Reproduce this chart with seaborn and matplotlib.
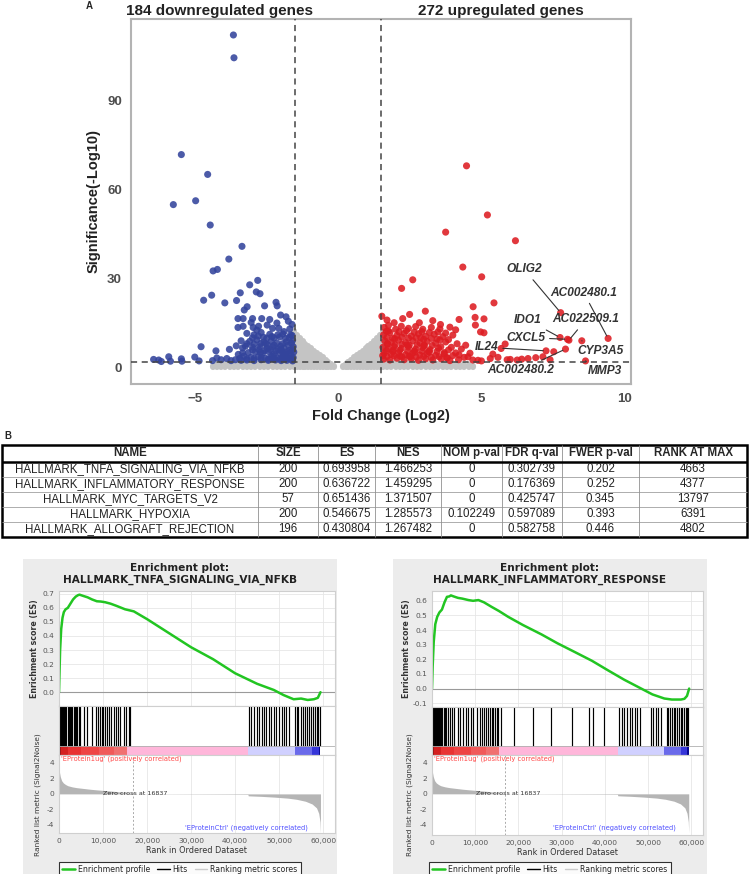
import pandas as pd
import seaborn as sns
from matplotlib import pyplot as plt
from matplotlib.lines import Line2D
from matplotlib.patches import Rectangle

# ---------------- data: volcano plot ----------------
BLUE_FC = [-3.67, -3.65, -5.49, -4.57, -5.77, -4.99, -4.48, -3.37, -3.83, -4.38, -4.23, -3.10,
           -2.82, -2.87, -2.74, -3.43, -4.43, -4.71, -3.97, -3.56, -3.29, -3.19, -2.58, -2.18,
           -2.14, -3.51, -3.33, -3.00, -2.68, -2.02, -1.83, -3.51, -3.33, -2.98, -2.79, -4.80,
           -4.28, -3.81, -3.57, -3.35, -6.46, -6.28, -6.19, -5.87, -5.93, -5.49, -5.47, -5.02,
           -4.87, -2.49, -2.30, -2.08, -1.90, -1.67, -2.05, -1.62, -1.75, -3.20, -2.95, -2.70,
           -2.40, -2.25, -1.85, -1.60, -3.40, -3.10, -2.85, -2.60, -2.35, -2.15, -1.95, -1.75,
           -1.58, -3.25, -3.00, -2.75, -2.50, -2.30, -2.10, -1.90, -1.70, -1.56, -3.15, -2.90,
           -2.65, -2.45, -2.25, -2.05, -1.85, -1.65, -3.30, -3.05, -2.80, -2.55, -2.35, -2.15,
           -1.95, -1.75, -1.58, -3.60, -3.40, -3.20, -2.95, -2.70, -2.45, -2.20, -2.00, -1.80,
           -1.60, -4.10, -3.90, -3.75, -4.40, -4.25, -2.62, -2.85, -2.15, -3.05, -2.40, -1.70,
           -2.00, -2.55, -1.62, -1.88, -2.28, -2.72,
           -3.45, -3.20, -2.95, -2.70, -2.45, -2.25, -2.05, -1.85, -1.65,
           -3.00, -2.78, -2.58, -2.38, -2.18, -1.98, -1.78, -1.60,
           -3.20, -2.95, -2.72, -2.48, -2.25, -2.02, -1.82, -1.64,
           -3.00, -2.80, -2.50, -2.32, -2.12, -1.94, -1.72,
           -3.50, -3.35, -2.30, -1.92, -1.72]
BLUE_SIG = [112.3, 104.6, 71.9, 65.2, 55.0, 56.3, 48.1, 40.9, 36.6, 32.6, 33.1, 27.9,
            29.4, 25.5, 24.9, 25.2, 24.4, 22.7, 21.8, 22.6, 19.4, 20.5, 20.8, 22.0,
            20.8, 16.5, 16.5, 16.5, 16.5, 17.7, 17.1, 13.5, 13.9, 13.5, 13.9, 7.0,
            5.6, 6.1, 7.3, 6.6, 2.7, 2.5, 2.0, 2.1, 3.6, 2.9, 2.1, 3.5,
            2.2, 14.3, 13.2, 13.2, 12.1, 11.0, 10.3, 14.5, 15.6, 11.5, 11.0, 11.8,
            11.2, 10.0, 9.8, 9.2, 9.0, 8.8, 9.3, 8.6, 8.9, 8.2, 8.0, 7.6,
            7.0, 7.2, 6.8, 7.0, 6.5, 6.9, 6.2, 6.5, 5.8, 5.2, 5.0, 5.2,
            4.8, 5.4, 4.6, 4.9, 4.4, 4.0, 3.8, 3.4, 3.6, 3.1, 3.7, 3.2,
            3.5, 3.0, 3.3, 2.6, 2.4, 2.5, 2.3, 2.6, 2.4, 2.5, 2.3, 2.4,
            2.2, 2.6, 3.0, 2.3, 2.3, 3.2, 10.2, 12.6, 15.0, 15.2, 16.2, 13.0,
            6.0, 8.0, 10.8, 4.2, 2.9, 5.0,
            3.0, 2.9, 3.0, 3.3, 2.8, 2.9, 2.8, 2.9, 2.7,
            5.9, 6.0, 5.7, 6.0, 5.6, 5.5, 5.4, 6.0,
            8.0, 7.9, 8.1, 7.7, 7.5, 7.2, 8.6, 8.2,
            10.0, 10.6, 9.9, 10.4, 11.0, 11.3, 10.1,
            4.4, 4.9, 3.9, 4.0, 4.7]

RED_FC = [4.48, 5.21, 3.75, 6.19, 4.35, 5.01, 2.60, 2.21, 5.44, 7.77, 3.04, 2.49,
          1.95, 2.83, 3.57, 4.22, 4.78, 5.09, 4.79, 4.97, 5.09, 7.75, 8.06, 8.01,
          8.51, 9.43, 5.83, 5.69, 7.26, 7.53, 7.94, 7.15, 8.64, 6.41, 6.63, 6.25,
          6.01, 5.58, 5.31, 4.88, 4.53, 4.22, 1.52, 4.71,
          1.60, 1.75, 2.00, 2.20, 2.45, 2.70, 2.95, 3.25, 3.55, 3.90, 4.10,
          1.58, 1.80, 2.05, 2.30, 2.55, 2.80, 3.05, 3.35, 3.65, 4.00,
          1.62, 1.85, 2.10, 2.35, 2.60, 2.85, 3.10, 3.40, 3.75, 4.15, 4.45,
          1.56, 1.75, 1.95, 2.20, 2.45, 2.70, 2.95, 3.20, 3.50, 3.85, 4.30,
          1.60, 1.85, 2.10, 2.35, 2.60, 2.85, 3.10, 3.40, 3.70, 4.00, 4.60,
          1.58, 1.80, 2.05, 2.30, 2.55, 2.80, 3.05, 3.30, 3.60, 3.90, 4.20, 4.70, 5.00,
          1.70, 2.25, 3.30, 1.90, 2.15, 2.65, 3.00, 1.68, 1.92, 2.40, 2.88, 3.45,
          1.55, 1.72, 2.52, 3.15, 3.80, 5.40, 5.90, 6.90, 7.40,
          1.70, 1.95, 2.22, 2.48, 2.72, 2.98, 3.25, 3.52, 3.80, 4.40,
          1.68, 1.90, 2.15, 2.42, 2.68, 2.92, 3.18, 3.45, 3.70, 4.10,
          1.72, 1.98, 2.22, 2.48, 2.75, 3.00, 3.28, 3.58, 3.95,
          1.70, 1.97, 2.22, 2.45, 2.72, 2.98, 3.25, 3.55, 3.85,
          1.75, 2.12, 2.38, 2.65, 2.92, 3.18, 3.48, 3.75]
RED_SIG = [68.1, 51.5, 45.7, 42.8, 33.9, 30.6, 29.6, 26.7, 21.8, 18.5, 19.0, 17.9,
           15.1, 15.1, 14.5, 16.2, 16.9, 16.4, 14.3, 12.0, 11.7, 10.1, 9.2, 9.5,
           9.0, 9.8, 7.9, 6.4, 5.6, 5.3, 6.2, 3.6, 2.2, 2.8, 3.0, 2.5,
           2.7, 3.4, 3.0, 2.4, 3.6, 4.2, 17.3, 20.5,
           13.5, 14.2, 12.9, 13.9, 13.2, 13.8, 12.9, 13.5, 13.0, 13.6, 12.7,
           11.0, 11.8, 10.8, 11.5, 10.6, 11.4, 10.5, 11.2, 10.4, 10.9,
           9.0, 8.5, 9.2, 8.4, 9.0, 8.3, 8.8, 8.2, 8.6, 8.0, 7.5,
           6.8, 6.3, 7.0, 6.4, 6.9, 6.2, 6.7, 6.0, 6.5, 5.9, 6.2,
           4.8, 4.4, 5.0, 4.3, 4.8, 4.2, 4.7, 4.1, 4.6, 4.0, 4.8,
           2.8, 2.5, 3.1, 2.6, 3.0, 2.4, 2.9, 2.5, 2.9, 2.3, 2.6, 2.5, 2.2,
           16.0, 16.5, 15.8, 9.9, 3.8, 5.6, 7.5, 12.2, 5.8, 7.6, 10.0, 9.6,
           4.0, 8.0, 3.6, 5.4, 3.2, 4.5, 2.6, 3.3, 2.6,
           3.7, 3.9, 3.6, 3.8, 3.5, 3.7, 3.4, 3.6, 3.3, 3.4,
           5.7, 5.4, 5.8, 5.5, 5.3, 5.6, 5.2, 5.4, 5.0, 4.9,
           7.9, 7.6, 7.8, 7.5, 7.7, 7.3, 7.4, 7.0, 6.8,
           10.1, 9.7, 10.2, 9.9, 10.0, 9.5, 9.8, 9.3, 9.4,
           12.3, 12.0, 12.4, 11.9, 12.1, 11.8, 12.0, 11.6]

# non-significant genes: column positions and the height each column reaches
GREY_FC = [-4.55, -4.40, -4.25, -4.10, -3.95, -3.80, -3.65, -3.50, -3.35, -3.20, -3.05,
           -2.90, -2.75, -2.60, -2.45, -2.30, -2.15, -2.00, -1.85, -1.70,
           -1.55, -1.45, -1.35, -1.25, -1.15, -1.05, -0.95, -0.85, -0.75, -0.65, -0.55,
           -0.45, -0.35, -0.25, -0.15, -0.05, 0.05, 0.15, 0.25, 0.35, 0.45, 0.55, 0.65,
           0.75, 0.85, 0.95, 1.05, 1.15, 1.25, 1.35, 1.45, 1.55,
           1.70, 1.85, 2.00, 2.15, 2.30, 2.45, 2.60, 2.75, 2.90, 3.05, 3.20, 3.35,
           3.50, 3.65, 3.80, 3.95, 4.10, 4.25, 4.40, 4.55, 4.70, 4.85, 5.00]
GREY_TOP = [0.2, 0.5, 0.8, 0.9, 1.1, 1.0, 1.3, 1.2, 1.4, 1.3, 1.5,
            1.4, 1.6, 1.5, 1.6, 1.7, 1.6, 1.7, 1.8, 1.7,
            12.2, 11.0, 10.0, 9.0, 8.0, 7.2, 6.4, 5.6, 4.9, 4.2, 3.4,
            2.6, 1.8, 1.0, 0.4, 0.0, 0.0, 0.4, 1.0, 1.8, 2.6, 3.4, 4.2,
            4.9, 5.6, 6.4, 7.2, 8.0, 9.0, 10.0, 11.0, 12.0,
            1.8, 1.7, 1.8, 1.6, 1.7, 1.6, 1.5, 1.6, 1.4, 1.5, 1.3, 1.4,
            1.2, 1.3, 1.1, 1.0, 1.1, 0.9, 0.8, 0.7, 0.5, 0.3, 0.1]

GENE_LABELS = ["OLIG2", "AC002480.1", "IDO1", "AC022509.1", "CXCL5", "IL24", "CYP3A5",
               "AC002480.2", "MMP3"]
GENE_FC = [7.77, 9.43, 7.75, 8.06, 8.01, 7.26, 8.51, 7.94, 8.64]
GENE_SIG = [18.5, 9.8, 10.1, 9.2, 9.5, 5.6, 9.0, 6.2, 2.2]

# ---------------- data: GSEA table ----------------
TABLE_HEADER = ["NAME", "SIZE", "ES", "NES", "NOM p-val", "FDR q-val", "FWER p-val", "RANK AT MAX"]
GS_NAMES = ["HALLMARK_TNFA_SIGNALING_VIA_NFKB", "HALLMARK_INFLAMMATORY_RESPONSE",
            "HALLMARK_MYC_TARGETS_V2", "HALLMARK_HYPOXIA", "HALLMARK_ALLOGRAFT_REJECTION"]
GS_SIZE = ["200", "200", "57", "200", "196"]
GS_ES = ["0.693958", "0.636722", "0.651436", "0.546675", "0.430804"]
GS_NES = ["1.466253", "1.459295", "1.371507", "1.285573", "1.267482"]
GS_NOM = ["0", "0", "0", "0.102249", "0"]
GS_FDR = ["0.302739", "0.176369", "0.425747", "0.597089", "0.582758"]
GS_FWER = ["0.202", "0.252", "0.345", "0.393", "0.446"]
GS_RANK = ["4663", "4377", "13797", "6391", "4802"]

# ---------------- data: enrichment plots ----------------
TNFA_RANK = [0, 100, 250, 500, 800, 1100, 1500, 2000, 2600, 3200, 3800, 4300, 4663, 5500,
             6500, 7500, 8600, 9500, 10500, 11700, 13000, 15000, 17000, 20000, 25000, 30000,
             35000, 40000, 45000, 48800, 51000, 53300, 55000, 56500, 57900, 58800, 59400]
TNFA_ES = [0.0, 0.12, 0.30, 0.45, 0.53, 0.57, 0.59, 0.60, 0.63, 0.66, 0.68, 0.69, 0.694, 0.685,
           0.675, 0.66, 0.647, 0.645, 0.64, 0.63, 0.615, 0.59, 0.575, 0.52, 0.42, 0.32,
           0.235, 0.135, 0.06, 0.016, -0.02, -0.05, -0.045, -0.055, -0.05, -0.04, 0.0]
TNFA_HITS = [0, 150, 300, 450, 650, 850, 1050, 1350, 1700, 1950, 2200, 2450, 2700, 3000,
             3300, 3600, 3900, 4200, 4500, 4700, 5600, 6360, 7500, 8500, 8900, 9300, 9700,
             10100, 10500, 10900, 11400, 11900, 12400, 12900, 13400, 13900, 14700, 15300,
             15800, 16200,
             43100, 43700, 44300, 44900, 45500, 46100, 46500, 47100, 47700, 48200, 48900,
             49400, 50000, 50600, 51200, 51600, 52200, 53600, 54000, 54400, 54900, 55400,
             55800, 56300, 56800, 57300, 57800, 58200, 58600, 58900, 59200]

INFL_RANK = [0, 150, 400, 760, 1200, 1700, 2300, 2900, 3460, 4000, 4377, 5000, 6000, 7000,
             8430, 9500, 10740, 12000, 13820, 15500, 17650, 21000, 25350, 29000, 33020, 37000,
             40700, 44500, 48400, 51000, 53760, 55500, 57600, 58400, 59000, 59500]
INFL_ES = [0.0, 0.15, 0.32, 0.44, 0.49, 0.52, 0.54, 0.59, 0.627, 0.63, 0.637, 0.63, 0.62,
           0.615, 0.605, 0.60, 0.605, 0.59, 0.558, 0.53, 0.49, 0.435, 0.37, 0.31, 0.25, 0.19,
           0.125, 0.06, 0.0, -0.04, -0.068, -0.075, -0.075, -0.07, -0.05, 0.0]
INFL_HITS = [0, 120, 250, 380, 500, 650, 800, 950, 1100, 1300, 1500, 1700, 1900, 2100, 2400,
             2700, 3000, 3300, 3700, 4100, 4600, 5200, 5900, 6500, 7200, 7800, 8400, 9000,
             9600, 10300, 11000, 11600, 12100, 12600, 13000, 13400, 13800, 14200, 14600,
             15000, 15300, 16000, 19000, 23300, 27600, 32500, 36400, 37300, 39900,
             43300, 43900, 44500, 45100, 45700, 46300, 46900, 47500, 48100, 50600, 51200,
             51800, 52400, 53000, 54300, 54700, 55100, 55500, 55900, 56300, 56700, 57100,
             57500, 57900, 58300, 58700, 59000, 59300]

METRIC_RANK = [0, 100, 300, 600, 1000, 1500, 2000, 3000, 4000, 5500, 7000, 8500, 10000, 11500,
               13000, 15000, 16837, 20000, 30000, 40000, 42900, 43000, 46000, 49000, 52000,
               54000, 56000, 57500, 58500, 59000, 59300, 59400]
METRIC_VAL = [3.8, 2.8, 2.2, 1.7, 1.4, 1.2, 1.05, 0.9, 0.8, 0.7, 0.6, 0.52, 0.45, 0.38, 0.3,
              0.18, 0.0, -0.02, -0.04, -0.06, -0.07, -0.25, -0.32, -0.42, -0.55, -0.7, -0.95,
              -1.3, -1.8, -2.5, -3.6, -5.0]

BAR_EDGES = [0, 500, 2000, 5000, 9000, 12500, 15400, 43000, 53700, 57500, 59000, 59400]
BAR_COLORS = ["#9a1010", "#d42020", "#e83232", "#ee4444", "#f05a5a", "#f07070", "#ffb6da",
              "#d0d0ff", "#6a6aea", "#3535d8", "#0a0a90"]

# ---------------- layout ----------------
W, H = 749, 874
BLUE, RED, GREY = "#33449c", "#dd1c22", "#c4c4c4"
GREEN = "#22c522"
PANEL_BG = "#ececec"
GSEA_FONT = "DejaVu Sans"

sns.set_style("white")
plt.rcParams["font.family"] = ["Liberation Sans", "DejaVu Sans"]

fig = plt.figure(figsize=(W / 100, H / 100), dpi=100)


def px_axes(l, t, r, b):
    return fig.add_axes([l / W, 1 - b / H, (r - l) / W, (b - t) / H])


# ---------------- A: volcano ----------------
ax = px_axes(131, 19, 631, 384)
grey = ax.vlines(GREY_FC, 0, GREY_TOP, color=GREY, lw=4.4, zorder=1)
grey.set_capstyle("round")

vol = pd.DataFrame({
    "fc": BLUE_FC + RED_FC,
    "sig": BLUE_SIG + RED_SIG,
    "group": ["down"] * len(BLUE_FC) + ["up"] * len(RED_FC),
})
sns.scatterplot(data=vol, x="fc", y="sig", hue="group", palette={"down": BLUE, "up": RED},
                s=26, linewidth=0, alpha=0.88, legend=False, ax=ax, zorder=2)

for xv in (-1.5, 1.5):
    ax.axvline(xv, color="#444444", ls=(0, (4, 3)), lw=1.1, zorder=3)
ax.axhline(2, color="#444444", ls=(0, (4, 3)), lw=1.1, zorder=3)

label_text_pos = [(6.50, 33.1), (8.58, 25.2), (6.63, 16.0), (8.66, 16.2), (6.54, 10.1),
                  (5.17, 6.8), (9.18, 5.6), (6.36, -0.9), (9.33, -1.3)]
for name, gx, gy, (tx, ty) in zip(GENE_LABELS, GENE_FC, GENE_SIG, label_text_pos):
    ax.annotate(name, xy=(gx, gy), xytext=(tx, ty), ha="center", va="center",
                fontsize=8.6, fontstyle="italic", fontweight="bold", color="#333333",
                arrowprops=dict(arrowstyle="-", color="#333333", lw=0.8, shrinkA=1, shrinkB=2),
                zorder=4)

ax.set_xlim(-7.25, 10.23)
ax.set_ylim(-5.6, 117.7)
ax.set_xticks([-5, 0, 5, 10])
ax.set_yticks([0, 30, 60, 90])
ax.tick_params(labelsize=9.5, labelcolor="#4d4d4d", length=3, color="#b3b3b3", width=1)
for lab in ax.get_xticklabels() + ax.get_yticklabels():
    lab.set_fontweight("bold")
for sp in ax.spines.values():
    sp.set_color("#b3b3b3")
    sp.set_linewidth(1.5)
ax.set_xlabel("Fold Change (Log2)", fontsize=10.5, fontweight="bold", color="#222222", labelpad=3)
ax.set_ylabel("Significance(-Log10)", fontsize=10.5, fontweight="bold", color="#222222", labelpad=5)

fig.text(219 / W, 1 - 11 / H, "184 downregulated genes", ha="center", va="center",
         fontsize=11, fontweight="bold", color="#222222")
fig.text(501 / W, 1 - 11 / H, "272 upregulated genes", ha="center", va="center",
         fontsize=11, fontweight="bold", color="#222222")
fig.text(89 / W, 1 - 6 / H, "A", ha="center", va="center", fontsize=7, fontweight="bold")
fig.text(8 / W, 1 - 436 / H, "B", ha="center", va="center", fontsize=7, fontweight="bold")

# ---------------- B: table ----------------
axt = px_axes(0, 430, W, 545)
axt.set_xlim(0, W)
axt.set_ylim(545, 430)
axt.axis("off")
col_edges = [2, 258, 318, 375, 441, 502, 562, 639, 747]
row_edges = [445, 461.5, 476.6, 491.7, 506.8, 521.9, 537]
rows = list(zip(GS_NAMES, GS_SIZE, GS_ES, GS_NES, GS_NOM, GS_FDR, GS_FWER, GS_RANK))
for y in row_edges[2:-1]:
    axt.hlines(y, col_edges[0], col_edges[-1], color="#a0a0a0", lw=0.6)
for x in col_edges[1:-1]:
    axt.vlines(x, row_edges[0], row_edges[-1], color="#909090", lw=0.6)
axt.hlines(row_edges[1], col_edges[0], col_edges[-1], color="black", lw=1.8)
axt.add_patch(Rectangle((col_edges[0], row_edges[0]), col_edges[-1] - col_edges[0],
                        row_edges[-1] - row_edges[0], fill=False, edgecolor="black", lw=1.8))
for i, head in enumerate(TABLE_HEADER):
    cx = (col_edges[i] + col_edges[i + 1]) / 2
    axt.text(cx, (row_edges[0] + row_edges[1]) / 2, head, ha="center", va="center",
             fontsize=8.3, fontweight="bold")
for r, row in enumerate(rows):
    cy = (row_edges[r + 1] + row_edges[r + 2]) / 2
    for i, val in enumerate(row):
        cx = (col_edges[i] + col_edges[i + 1]) / 2
        axt.text(cx, cy, val, ha="center", va="center", fontsize=8.3, color="#222222")


# ---------------- enrichment plots ----------------
def draw_gsea(bg, es_box, hit_box, rank_box, title, es_rank, es_score, hits,
              es_ylim, es_ticks, rank_ylim, label_x):
    l, t, r, b = bg
    fig.patches.append(Rectangle((l / W, 1 - b / H), (r - l) / W, (b - t) / H,
                                 transform=fig.transFigure, facecolor=PANEL_BG,
                                 edgecolor="none", zorder=-1))
    cx = (l + r) / 2
    fig.text(cx / W, 1 - 574 / H, f"Enrichment plot:\n{title}", ha="center", va="center",
             fontsize=7.6, fontweight="bold", family=GSEA_FONT, linespacing=1.3, color="#222222")

    # running enrichment score
    ax1 = px_axes(*es_box)
    ax1.set_facecolor("white")
    ax1.grid(True, color="#e6e6e6", lw=0.6)
    ax1.axhline(0, color="#9a9a9a", lw=0.8)
    sns.lineplot(x=es_rank, y=es_score, color=GREEN, lw=1.8, ax=ax1)
    ax1.set_xlim(0, 62700)
    ax1.set_ylim(*es_ylim)
    ax1.set_xticks(range(0, 60001, 10000))
    ax1.set_xticklabels([])
    ax1.set_yticks(es_ticks)
    ax1.set_yticklabels([f"{v:.1f}" for v in es_ticks])
    ax1.tick_params(axis="x", length=0)
    ax1.tick_params(axis="y", labelsize=5.4, labelcolor="#555555", length=2, pad=1.5,
                    labelfontfamily=GSEA_FONT)
    for sp in ax1.spines.values():
        sp.set_color("#cfcfcf")
        sp.set_linewidth(0.8)
    fig.text(label_x / W, 1 - (es_box[1] + es_box[3]) / 2 / H, "Enrichment score (ES)",
             rotation=90, ha="center", va="center", fontsize=5.7, fontweight="bold",
             family=GSEA_FONT, color="#333333")

    # hits and ranked list colour bar
    ax2 = px_axes(*hit_box)
    ax2.set_facecolor("white")
    ax2.set_xlim(0, 62700)
    ax2.set_ylim(0, 1)
    ax2.vlines(hits, 0.19, 1, color="black", lw=0.85)
    for x0, x1, c in zip(BAR_EDGES[:-1], BAR_EDGES[1:], BAR_COLORS):
        ax2.axvspan(x0, x1, 0, 0.19, color=c, lw=0)
    ax2.axhline(0.19, color="#b0b0b0", lw=0.6)
    ax2.set_xticks([])
    ax2.set_yticks([])
    for sp in ax2.spines.values():
        sp.set_color("#cfcfcf")
        sp.set_linewidth(0.8)

    # ranked list metric
    ax3 = px_axes(*rank_box)
    ax3.set_facecolor("white")
    ax3.grid(True, axis="x", color="#e6e6e6", lw=0.6)
    ax3.fill_between(METRIC_RANK, METRIC_VAL, 0, color="#b5b5b5", lw=0)
    ax3.axvline(16837, color="#aaaaaa", ls=(0, (2, 2)), lw=0.7)
    ax3.set_xlim(0, 62700)
    ax3.set_ylim(*rank_ylim)
    ax3.set_xticks(range(0, 60001, 10000))
    ax3.set_xticklabels([f"{v:,}" for v in range(0, 60001, 10000)])
    ax3.set_yticks([4, 2, 0, -2, -4])
    ax3.set_yticklabels(["4", "2", "0", "-2", "-4"])
    ax3.tick_params(labelsize=5.4, labelcolor="#555555", length=2, pad=1.5,
                    labelfontfamily=GSEA_FONT)
    for sp in ax3.spines.values():
        sp.set_color("#cfcfcf")
        sp.set_linewidth(0.8)
    ax3.set_xlabel("Rank in Ordered Dataset", fontsize=5.9, family=GSEA_FONT,
                   color="#333333", labelpad=1.5)
    ax3.text(400, 4.5, "'EProtein1ug' (positively correlated)", color="#ff4a4a",
             fontsize=4.9, va="center", family=GSEA_FONT)
    ax3.text(10100, 0, "Zero cross at 16837", color="#333333", fontsize=4.6,
             va="center", family=GSEA_FONT)
    ax3.text(56500, -4.35, "'EProteinCtrl' (negatively correlated)", color="#5050ff",
             fontsize=4.9, va="center", ha="right", family=GSEA_FONT)
    fig.text((label_x + 3) / W, 1 - 795 / H, "Ranked list metric (Signal2Noise)", rotation=90,
             ha="center", va="center", fontsize=5.3, family=GSEA_FONT, color="#333333")

    handles = [Line2D([], [], color=GREEN, lw=1.8), Line2D([], [], color="black", lw=1.0),
               Line2D([], [], color="#cccccc", lw=1.0)]
    leg = fig.legend(handles, ["Enrichment profile", "Hits", "Ranking metric scores"],
                     loc="upper center", bbox_to_anchor=(cx / W, 1 - 858 / H), ncol=3,
                     frameon=True, fancybox=False, edgecolor="black",
                     handlelength=1.6, columnspacing=0.9, handletextpad=0.4, borderpad=0.4,
                     prop={"family": GSEA_FONT, "size": 5.6})
    leg.get_frame().set_linewidth(0.8)


draw_gsea((23, 559, 337, 880), (59, 591, 335, 706), (59, 706, 335, 755), (59, 755, 335, 833),
          "HALLMARK_TNFA_SIGNALING_VIA_NFKB", TNFA_RANK, TNFA_ES, TNFA_HITS,
          (-0.098, 0.72), [0.0, 0.1, 0.2, 0.3, 0.4, 0.5, 0.6, 0.7], (-5.03, 5.0), 35)
draw_gsea((393, 559, 707, 880), (432, 591, 703, 707), (432, 707, 703, 755), (432, 755, 703, 835),
          "HALLMARK_INFLAMMATORY_RESPONSE", INFL_RANK, INFL_ES, INFL_HITS,
          (-0.126, 0.667), [-0.1, 0.0, 0.1, 0.2, 0.3, 0.4, 0.5, 0.6], (-5.3, 5.0), 407)

fig.savefig("out.png", dpi=100)
